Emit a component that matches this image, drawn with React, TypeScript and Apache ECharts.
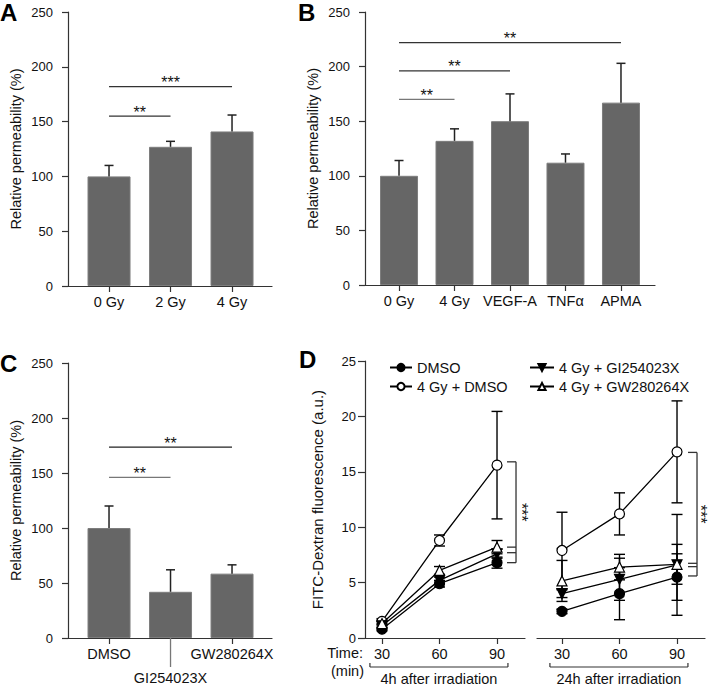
import React, { useEffect, useRef } from "react";
import * as echarts from "echarts";

const FONT = "'Liberation Sans', Arial, Helvetica, sans-serif";

// ---------- Panel A ----------
const catsA = ["0 Gy", "2 Gy", "4 Gy"];
const valsA = [100, 127, 141];
const errA = [10, 5, 15];
const sigA = [[0, 1, 155], [0, 2, 182]];
const sigLabelsA = ["**", "***"];

// ---------- Panel B ----------
const catsB = ["0 Gy", "4 Gy", "VEGF-A", "TNFα", "APMA"];
const valsB = [100, 132, 150, 112, 167];
const errB = [14, 11, 25, 8, 36];
const sigB = [[0, 1, 170], [0, 2, 196], [0, 4, 222]];
const sigLabelsB = ["**", "**", "**"];

// ---------- Panel C ----------
const catsC = ["DMSO", "GI254023X", "GW280264X"];
const valsC = [100, 42, 58.5];
const errC = [20, 20, 8];
const sigC = [[0, 1, 146], [0, 2, 173.5]];
const sigLabelsC = ["**", "**"];

// ---------- Panel D ----------
const timesD = [30, 60, 90];
const namesD = ["DMSO", "4 Gy + DMSO", "4 Gy + GI254023X", "4 Gy + GW280264X"];
// 4h after irradiation
const dmso4h = [0.8, 4.9, 6.8];
const dmso4hErr = [0.15, 0.3, 0.5];
const gyDmso4h = [1.5, 8.8, 15.6];
const gyDmso4hErr = [0.25, 0.5, 4.85];
const gi4h = [1.1, 5.2, 7.6];
const gi4hErr = [0.15, 0.3, 0.4];
const gw4h = [1.3, 6.1, 8.2];
const gw4hErr = [0.2, 0.35, 0.6];
// 24h after irradiation
const dmso24h = [2.4, 4.0, 5.5];
const dmso24hErr = [0.2, 2.35, 2.1];
const gyDmso24h = [7.9, 11.2, 16.8];
const gyDmso24hErr = [3.45, 1.9, 4.6];
const gi24h = [4.0, 5.3, 6.6];
const gi24hErr = [0.35, 1.9, 4.55];
const gw24h = [5.15, 6.4, 6.65];
const gw24hErr = [1.85, 1.15, 1.8];
// significance bracket levels (top, then the three lower groups)
const sigD4h = [15.9, 8.2, 7.7, 6.8];
const sigD24h = [16.75, 6.74, 6.44, 5.6];
const sigLabelD = "***";
const timeGroups = ["4h after irradiation", "24h after irradiation"];

const AX = "#333";
const TXT = "#111";

function barX(gi: number, cats: string[], min: number, max: number, lowIndex = -1) {
  const idx = cats.map((_, i) => i);
  const shown = idx.filter((i) => i !== lowIndex);
  return {
    type: "value",
    gridIndex: gi,
    min,
    max,
    splitLine: { show: false },
    axisLine: { show: true, onZero: false, lineStyle: { color: AX, width: 1.2 } },
    axisTick: { show: true, customValues: shown, length: 6, lineStyle: { color: AX, width: 1.2 } },
    axisLabel: {
      customValues: shown,
      formatter: (v: number) => cats[Math.round(v)],
      fontSize: 14.5,
      color: TXT,
      fontFamily: FONT,
      margin: 8,
    },
  };
}

function yAx(gi: number, max: number, interval: number, name: string, nameGap: number, labelMargin: number, tickLen: number, show = true) {
  return {
    type: "value",
    gridIndex: gi,
    show,
    min: 0,
    max,
    interval,
    name,
    nameLocation: "middle",
    nameGap,
    nameTextStyle: { fontSize: gi === 3 ? 15 : 14.5, color: TXT, fontFamily: FONT },
    splitLine: { show: false },
    axisLine: { show: true, onZero: false, lineStyle: { color: AX, width: 1.2 } },
    axisTick: { show: true, length: tickLen, lineStyle: { color: AX, width: 1.2 } },
    axisLabel: { fontSize: 13, color: TXT, fontFamily: FONT, margin: labelMargin },
  };
}

function barSeries(gi: number, vals: number[], width: number) {
  return {
    type: "bar",
    xAxisIndex: gi,
    yAxisIndex: gi,
    data: vals.map((v, i) => [i, v]),
    barWidth: width,
    itemStyle: { color: "#666666", borderColor: "#7d7d7d", borderWidth: 1 },
    silent: true,
    z: 2,
  };
}

function barErr(gi: number, vals: number[], errs: number[], capHalf: number) {
  return {
    type: "custom",
    xAxisIndex: gi,
    yAxisIndex: gi,
    silent: true,
    z: 3,
    data: vals.map((v, i) => [i, v, errs[i]]),
    renderItem: (params: any, api: any) => {
      const x = api.value(0), v = api.value(1), e = api.value(2);
      const p0 = api.coord([x, v]);
      const p1 = api.coord([x, v + e]);
      const st = { stroke: "#222", lineWidth: 1.5 };
      return {
        type: "group",
        children: [
          { type: "line", shape: { x1: p0[0], y1: p0[1], x2: p1[0], y2: p1[1] }, style: st },
          { type: "line", shape: { x1: p1[0] - capHalf, y1: p1[1], x2: p1[0] + capHalf, y2: p1[1] }, style: st },
        ],
      };
    },
  };
}

function sigSeries(gi: number, sig: number[][], labels: string[], colors: string[]) {
  return {
    type: "custom",
    xAxisIndex: gi,
    yAxisIndex: gi,
    silent: true,
    z: 4,
    data: sig,
    renderItem: (params: any, api: any) => {
      const a = api.coord([api.value(0), api.value(2)]);
      const b = api.coord([api.value(1), api.value(2)]);
      return {
        type: "group",
        children: [
          { type: "line", shape: { x1: a[0], y1: a[1], x2: b[0], y2: b[1] }, style: { stroke: colors[params.dataIndex], lineWidth: 1.3 } },
          {
            type: "text",
            x: (a[0] + b[0]) / 2,
            y: a[1] - 4,
            style: { text: labels[params.dataIndex], align: "center", verticalAlign: "middle", fontSize: 16, fill: TXT, fontFamily: FONT },
          },
        ],
      };
    },
  };
}

const symbolsD: any[] = [
  { symbol: "circle", symbolRotate: 0, color: "#000" },
  { symbol: "circle", symbolRotate: 0, color: "#fff" },
  { symbol: "triangle", symbolRotate: 180, color: "#000" },
  { symbol: "triangle", symbolRotate: 0, color: "#fff" },
];

function lineD(gi: number, k: number, ys: number[]) {
  const s = symbolsD[k];
  return {
    type: "line",
    name: namesD[k],
    xAxisIndex: gi,
    yAxisIndex: gi,
    data: timesD.map((t, i) => [t, ys[i]]),
    symbol: s.symbol,
    symbolRotate: s.symbolRotate,
    symbolSize: 10,
    showAllSymbol: true,
    lineStyle: { color: "#000", width: 1.3 },
    itemStyle: { color: s.color, borderColor: "#000", borderWidth: 1.2 },
    silent: true,
    z: 5 + k,
  };
}

function errD(gi: number, ys: number[], es: number[]) {
  return {
    type: "custom",
    xAxisIndex: gi,
    yAxisIndex: gi,
    silent: true,
    z: 3,
    data: timesD.map((t, i) => [t, ys[i], es[i]]),
    renderItem: (params: any, api: any) => {
      const x = api.value(0), y = api.value(1), e = api.value(2);
      const t = api.coord([x, y + e]);
      const b = api.coord([x, y - e]);
      const hw = 5.5;
      const st = { stroke: "#000", lineWidth: 1.4 };
      return {
        type: "group",
        children: [
          { type: "line", shape: { x1: t[0], y1: t[1], x2: b[0], y2: b[1] }, style: st },
          { type: "line", shape: { x1: t[0] - hw, y1: t[1], x2: t[0] + hw, y2: t[1] }, style: st },
          { type: "line", shape: { x1: b[0] - hw, y1: b[1], x2: b[0] + hw, y2: b[1] }, style: st },
        ],
      };
    },
  };
}

function sigBracketD(gi: number, levels: number[], offset: number, textOffset: number) {
  return {
    type: "custom",
    xAxisIndex: gi,
    yAxisIndex: gi,
    silent: true,
    z: 4,
    data: [[timesD[timesD.length - 1]]],
    renderItem: (params: any, api: any) => {
      const xv = api.value(0);
      const x0 = api.coord([xv, 0])[0] + offset;
      const ys = levels.map((l) => api.coord([xv, l])[1]);
      const top = Math.min(...ys), bot = Math.max(...ys);
      const st = { stroke: "#333", lineWidth: 1.3 };
      const children: any[] = [
        { type: "line", shape: { x1: x0, y1: top, x2: x0, y2: bot }, style: st },
      ];
      ys.forEach((y) => children.push({ type: "line", shape: { x1: x0 - 9, y1: y, x2: x0, y2: y }, style: st }));
      children.push({
        type: "text",
        x: x0 + textOffset,
        y: (top + bot) / 2,
        rotation: -Math.PI / 2,
        style: { text: sigLabelD, align: "center", verticalAlign: "middle", fontSize: 16, lineHeight: 10, fill: TXT, fontFamily: FONT },
      });
      return { type: "group", children };
    },
  };
}

function timeBracket(gi: number, k: number) {
  return {
    type: "custom",
    xAxisIndex: gi,
    yAxisIndex: gi,
    silent: true,
    z: 4,
    data: [[23.7, 95.7]],
    renderItem: (params: any, api: any) => {
      const a = api.coord([api.value(0), 0]);
      const b = api.coord([api.value(1), 0]);
      const y = a[1] + 29;
      const st = { stroke: "#333", lineWidth: 1.2 };
      return {
        type: "group",
        children: [
          { type: "line", shape: { x1: a[0], y1: y, x2: b[0], y2: y }, style: st },
          { type: "line", shape: { x1: a[0], y1: y, x2: a[0], y2: y - 4 }, style: st },
          { type: "line", shape: { x1: b[0], y1: y, x2: b[0], y2: y - 4 }, style: st },
          {
            type: "text",
            x: (a[0] + b[0]) / 2,
            y: y + 12,
            style: { text: timeGroups[k], align: "center", verticalAlign: "middle", fontSize: 14.5, fill: TXT, fontFamily: FONT },
          },
        ],
      };
    },
  };
}

function longTickC(gi: number, idx: number, label: string) {
  return {
    type: "custom",
    xAxisIndex: gi,
    yAxisIndex: gi,
    silent: true,
    z: 4,
    data: [[idx]],
    renderItem: (params: any, api: any) => {
      const p = api.coord([api.value(0), 0]);
      return {
        type: "group",
        children: [
          { type: "line", shape: { x1: p[0], y1: p[1], x2: p[0], y2: p[1] + 29 }, style: { stroke: "#777", lineWidth: 1.3 } },
          {
            type: "text",
            x: p[0],
            y: p[1] + 40,
            style: { text: label, align: "center", verticalAlign: "middle", fontSize: 14.5, fill: TXT, fontFamily: FONT },
          },
        ],
      };
    },
  };
}

export default function App() {
  const ref = useRef<HTMLDivElement>(null);
  useEffect(() => {
    if (!ref.current) return;
    const chart = echarts.init(ref.current, undefined, { renderer: "svg" });
    const letter = (text: string, left: number, top: number) => ({
      text,
      left,
      top,
      padding: 0,
      textStyle: { fontSize: 24, fontWeight: "bold", color: "#000", fontFamily: FONT },
    });
    const option: any = {
      animation: false,
      backgroundColor: "#fff",
      textStyle: { fontFamily: FONT },
      title: [letter("A", 0, 0), letter("B", 298, 0), letter("C", 0, 351), letter("D", 299, 347)],
      grid: [
        { left: 68, top: 12, width: 204, height: 274 },
        { left: 365, top: 12, width: 290, height: 273 },
        { left: 68, top: 363, width: 204, height: 275 },
        { left: 365, top: 361, width: 160, height: 277 },
        { left: 537, top: 361, width: 168, height: 277 },
      ],
      xAxis: [
        barX(0, catsA, -0.667, 2.65),
        barX(1, catsB, -0.613, 4.613),
        barX(2, catsC, -0.667, 2.65, 1),
        {
          type: "value", gridIndex: 3, min: 21.13, max: 104.6,
          splitLine: { show: false },
          axisLine: { show: true, onZero: false, lineStyle: { color: AX, width: 1.2 } },
          axisTick: { show: true, customValues: timesD, length: 6, lineStyle: { color: AX, width: 1.2 } },
          axisLabel: { customValues: timesD, fontSize: 14.5, color: TXT, fontFamily: FONT, margin: 8 },
        },
        {
          type: "value", gridIndex: 4, min: 16.96, max: 104.6,
          splitLine: { show: false },
          axisLine: { show: true, onZero: false, lineStyle: { color: AX, width: 1.2 } },
          axisTick: { show: true, customValues: timesD, length: 6, lineStyle: { color: AX, width: 1.2 } },
          axisLabel: { customValues: timesD, fontSize: 14.5, color: TXT, fontFamily: FONT, margin: 8 },
        },
      ],
      yAxis: [
        yAx(0, 250, 50, "Relative permeability (%)", 45, 15, 6),
        yAx(1, 250, 50, "Relative permeability (%)", 45, 15, 6),
        yAx(2, 250, 50, "Relative permeability (%)", 45, 15, 6),
        yAx(3, 25, 5, "FITC-Dextran fluorescence (a.u.)", 40, 9, 7),
        yAx(4, 25, 5, "", 40, 9, 7, false),
      ],
      legend: [
        {
          data: namesD.slice(0, 2), left: 389, top: 360, orient: "vertical", padding: 0,
          itemWidth: 22, itemHeight: 9, itemGap: 4, selectedMode: false,
          textStyle: { fontSize: 14.5, color: TXT, fontFamily: FONT, lineHeight: 15 },
        },
        {
          data: namesD.slice(2, 4), left: 529, top: 360, orient: "vertical", padding: 0,
          itemWidth: 24, itemHeight: 9, itemGap: 4, selectedMode: false,
          textStyle: { fontSize: 14.5, color: TXT, fontFamily: FONT, lineHeight: 15 },
        },
      ],
      graphic: [
        { type: "text", x: 363, y: 653, style: { text: "Time:", align: "right", verticalAlign: "middle", fontSize: 14.5, fill: TXT, fontFamily: FONT } },
        { type: "text", x: 364, y: 671, style: { text: "(min)", align: "right", verticalAlign: "middle", fontSize: 14.5, fill: TXT, fontFamily: FONT } },
      ],
      series: [
        barSeries(0, valsA, 43),
        barErr(0, valsA, errA, 4.5),
        sigSeries(0, sigA, sigLabelsA, ["#333", "#333"]),
        barSeries(1, valsB, 38),
        barErr(1, valsB, errB, 4.5),
        sigSeries(1, sigB, sigLabelsB, ["#777", "#333", "#333"]),
        barSeries(2, valsC, 43),
        barErr(2, valsC, errC, 4.5),
        sigSeries(2, sigC, sigLabelsC, ["#777", "#222"]),
        longTickC(2, 1, catsC[1]),
        errD(3, dmso4h, dmso4hErr),
        errD(3, gyDmso4h, gyDmso4hErr),
        errD(3, gi4h, gi4hErr),
        errD(3, gw4h, gw4hErr),
        lineD(3, 0, dmso4h),
        lineD(3, 1, gyDmso4h),
        lineD(3, 2, gi4h),
        lineD(3, 3, gw4h),
        errD(4, dmso24h, dmso24hErr),
        errD(4, gyDmso24h, gyDmso24hErr),
        errD(4, gi24h, gi24hErr),
        errD(4, gw24h, gw24hErr),
        lineD(4, 0, dmso24h),
        lineD(4, 1, gyDmso24h),
        lineD(4, 2, gi24h),
        lineD(4, 3, gw24h),
        sigBracketD(3, sigD4h, 19, 5),
        sigBracketD(4, sigD24h, 20, 3),
        timeBracket(3, 0),
        timeBracket(4, 1),
      ],
    };
    chart.setOption(option);
    return () => chart.dispose();
  }, []);
  return <div ref={ref} style={{ position: "fixed", left: 0, top: 0, width: 709, height: 686, background: "#fff" }} />;
}
